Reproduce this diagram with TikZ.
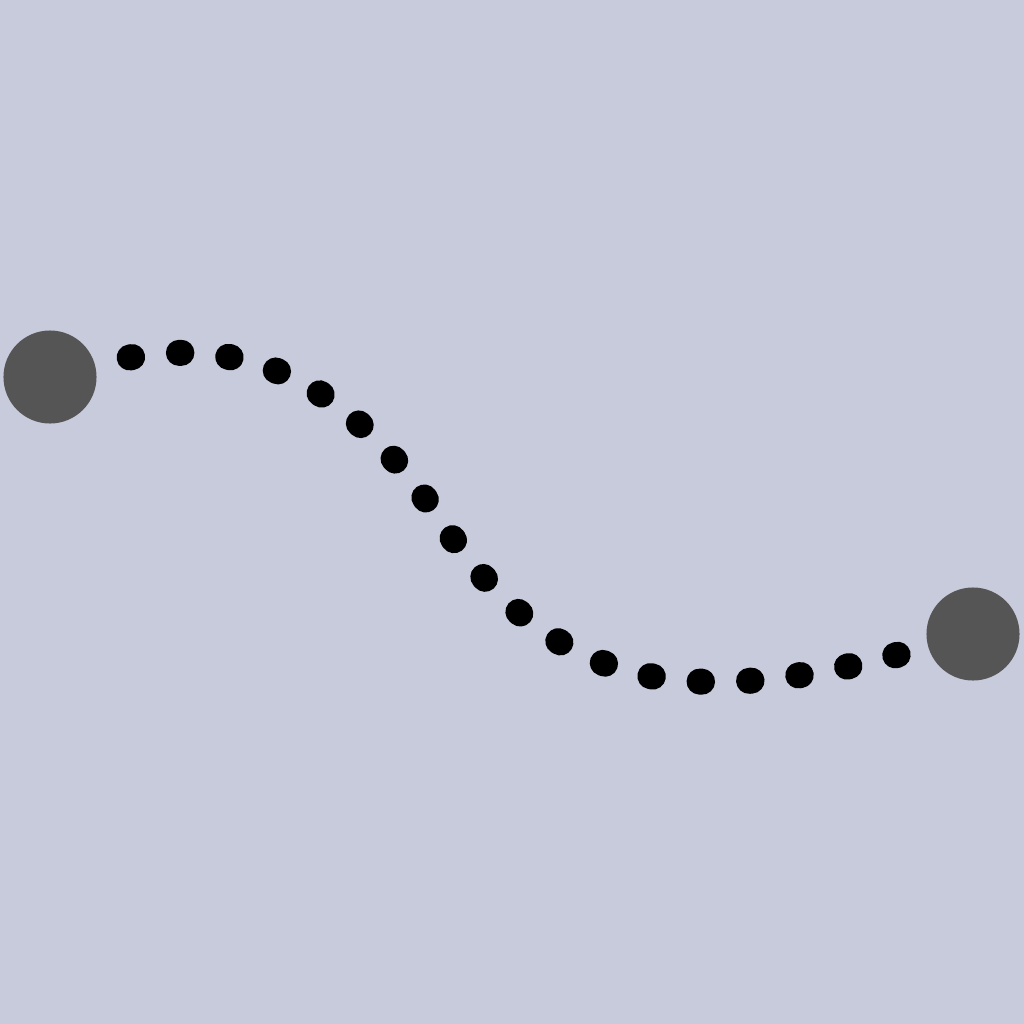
\documentclass[tikz,border=0pt]{standalone}
\usepackage{tikz}
\usepackage{xcolor}
\definecolor{bgcol}{HTML}{C8CBDC}
\definecolor{endcol}{HTML}{555555}

\begin{document}
\begin{tikzpicture}[x=0.01cm, y=-0.01cm,
    endpoint/.style={circle, fill=endcol, minimum size=0.93cm, inner sep=0pt, outer sep=0pt},
    dotline/.style={line width=0.26cm, line cap=round, dash pattern=on 0.025cm off 0.47cm, dash phase=0.14cm}]
  % Background
  \fill[bgcol] (0,0) rectangle (1024,1024);
  \useasboundingbox (0,0) rectangle (1024,1024);
  % End points
  \node[endpoint] (start) at (50,377) {};
  \node[endpoint] (finish) at (973,634) {};
  % Dotted S-curve
  \coordinate (mid) at (440,520);
  \draw[dotline] (start) .. controls (246,325) and (350,385) .. (mid)
    .. controls (552,688) and (680,716) .. (finish);
\end{tikzpicture}
\end{document}
